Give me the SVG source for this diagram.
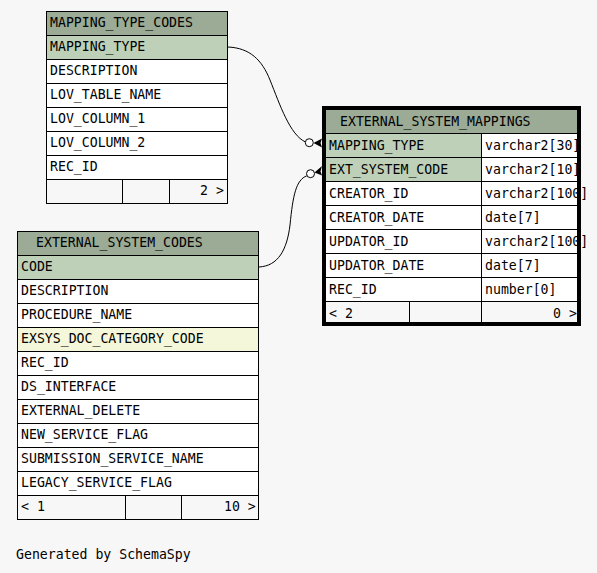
<svg xmlns="http://www.w3.org/2000/svg" width="597" height="573" viewBox="0 0 597 573">
<style>
text{font-family:"DejaVu Sans Mono","Liberation Mono",monospace;font-size:13.2px;fill:#000}
.hd{fill:#9bab96}
.key{fill:#bed1b8}
.row{fill:#ffffff}
.idx{fill:#f4f7da}
.ft{fill:#f7f7f7}
.ln{stroke:#000;stroke-width:1;fill:none}
.edge{stroke:#000;stroke-width:1;fill:none}
.end{fill:#000}
.odot{fill:#ffffff;stroke:#000;stroke-width:1}
</style>
<rect width="597" height="573" fill="#f7f7f7"/>

<g id="MAPPING_TYPE_CODES">
<rect class="hd" x="46.5" y="11.5" width="181" height="24"/>
<rect class="key" x="46.5" y="35.5" width="181" height="24"/>
<rect class="row" x="46.5" y="59.5" width="181" height="120"/>
<rect class="ft" x="46.5" y="179.5" width="181" height="24"/>
<rect class="ln" x="46.5" y="11.5" width="181" height="192"/>
<path class="ln" d="M46,35.5H228M46,59.5H228M46,83.5H228M46,107.5H228M46,131.5H228M46,155.5H228M46,179.5H228M122.5,179V204M169.5,179V204"/>
<text x="50" y="27">MAPPING_TYPE_CODES</text>
<text x="50" y="51">MAPPING_TYPE</text>
<text x="50" y="75">DESCRIPTION</text>
<text x="50" y="99">LOV_TABLE_NAME</text>
<text x="50" y="123">LOV_COLUMN_1</text>
<text x="50" y="147">LOV_COLUMN_2</text>
<text x="50" y="171">REC_ID</text>
<text x="200" y="195">2 &gt;</text>
</g>

<g id="EXTERNAL_SYSTEM_CODES">
<rect class="hd" x="17.5" y="231.5" width="241" height="24"/>
<rect class="key" x="17.5" y="255.5" width="241" height="24"/>
<rect class="row" x="17.5" y="279.5" width="241" height="48"/>
<rect class="idx" x="17.5" y="327.5" width="241" height="24"/>
<rect class="row" x="17.5" y="351.5" width="241" height="144"/>
<rect class="ft" x="17.5" y="495.5" width="241" height="24"/>
<rect class="ln" x="17.5" y="231.5" width="241" height="288"/>
<path class="ln" d="M17,255.5H259M17,279.5H259M17,303.5H259M17,327.5H259M17,351.5H259M17,375.5H259M17,399.5H259M17,423.5H259M17,447.5H259M17,471.5H259M17,495.5H259M125.5,495V520M181.5,495V520"/>
<text x="36" y="247">EXTERNAL_SYSTEM_CODES</text>
<text x="21" y="271">CODE</text>
<text x="21" y="295">DESCRIPTION</text>
<text x="21" y="319">PROCEDURE_NAME</text>
<text x="21" y="343">EXSYS_DOC_CATEGORY_CODE</text>
<text x="21" y="367">REC_ID</text>
<text x="21" y="391">DS_INTERFACE</text>
<text x="21" y="415">EXTERNAL_DELETE</text>
<text x="21" y="439">NEW_SERVICE_FLAG</text>
<text x="21" y="463">SUBMISSION_SERVICE_NAME</text>
<text x="21" y="487">LEGACY_SERVICE_FLAG</text>
<text x="21" y="511">&lt; 1</text>
<text x="224" y="511">10 &gt;</text>
</g>

<g id="EXTERNAL_SYSTEM_MAPPINGS">
<rect class="hd" x="324" y="108" width="255" height="25.5"/>
<rect class="key" x="324" y="133.5" width="157.5" height="48"/>
<rect class="row" x="481.5" y="133.5" width="97.5" height="48"/>
<rect class="row" x="324" y="181.5" width="255" height="120"/>
<rect class="ft" x="324" y="301.5" width="255" height="22"/>
<path class="ln" d="M324,133.5H579M324,157.5H579M324,181.5H579M324,205.5H579M324,229.5H579M324,253.5H579M324,277.5H579M324,301.5H579M481.5,133V324M409.5,301V324"/>
<text x="340" y="126">EXTERNAL_SYSTEM_MAPPINGS</text>
<text x="329" y="150">MAPPING_TYPE</text>
<text x="329" y="174">EXT_SYSTEM_CODE</text>
<text x="329" y="198">CREATOR_ID</text>
<text x="329" y="222">CREATOR_DATE</text>
<text x="329" y="246">UPDATOR_ID</text>
<text x="329" y="270">UPDATOR_DATE</text>
<text x="329" y="294">REC_ID</text>
<text x="485" y="150">varchar2[30]</text>
<text x="485" y="174">varchar2[10]</text>
<text x="485" y="198">varchar2[100]</text>
<text x="485" y="222">date[7]</text>
<text x="485" y="246">varchar2[100]</text>
<text x="485" y="270">date[7]</text>
<text x="485" y="294">number[0]</text>
<text x="329" y="318">&lt; 2</text>
<text x="553" y="318">0 &gt;</text>
<rect x="324" y="108" width="255" height="216" fill="none" stroke="#000" stroke-width="4"/>
</g>

<g id="connectors">
<path class="edge" d="M228,47 C250,48 262,60 270,80 C280,105 290,135 305.5,142"/>
<circle class="odot" cx="309.3" cy="142.7" r="4"/>
<polygon class="end" points="313.5,143 322,138.5 320.5,143 322,147.5"/>
<path class="edge" d="M259,267 C278,266 287,250 290,225 C293,195 296,180 306.8,175.8"/>
<circle class="odot" cx="310.5" cy="173.7" r="4"/>
<polygon class="end" points="314.5,172.5 322,166 320.5,171.5 322,175.5"/>
</g>

<text x="16" y="559">Generated by SchemaSpy</text>
</svg>
